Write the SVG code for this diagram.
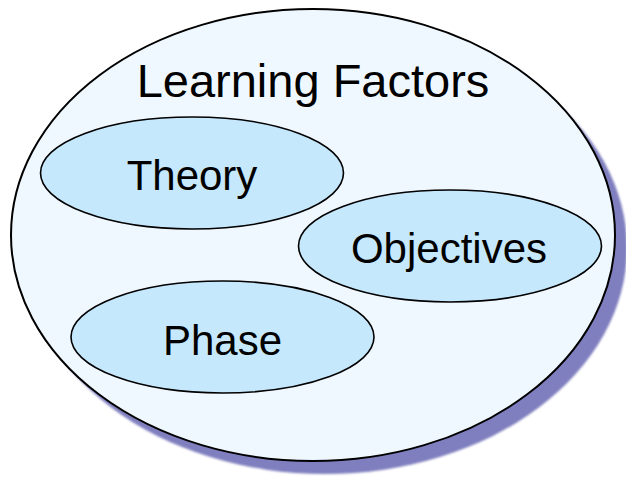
<svg xmlns="http://www.w3.org/2000/svg" width="626" height="477" viewBox="0 0 626 477">
  <defs>
    <filter id="soft" x="-5%" y="-5%" width="110%" height="110%">
      <feGaussianBlur stdDeviation="1"/>
    </filter>
  </defs>
  <style>
    .outer { fill: #f0f8ff; stroke: #000; stroke-width: 2; }
    .shadow { fill: #7f7fbf; stroke: none; }
    .inner { fill: #c6e8fc; stroke: #000; stroke-width: 1.6; }
    .title { font-family: "Liberation Sans", Arial, sans-serif; font-size: 47px; fill: #000; text-anchor: middle; }
    .label { font-family: "Liberation Sans", Arial, sans-serif; font-size: 42px; fill: #000; text-anchor: middle; }
  </style>
  <g id="learning-factors">
    <ellipse class="shadow" cx="325" cy="248" rx="302" ry="226" filter="url(#soft)"/>
    <ellipse class="outer" cx="313" cy="235" rx="302" ry="226"/>
    <text class="title" x="313" y="97">Learning Factors</text>
  </g>
  <g id="theory">
    <ellipse class="inner" cx="192" cy="173" rx="151.5" ry="56"/>
    <text class="label" x="192" y="190">Theory</text>
  </g>
  <g id="objectives">
    <ellipse class="inner" cx="450" cy="246" rx="151.5" ry="56"/>
    <text class="label" x="449" y="263">Objectives</text>
  </g>
  <g id="phase">
    <ellipse class="inner" cx="222.5" cy="337" rx="151.5" ry="56"/>
    <text class="label" x="222.5" y="355">Phase</text>
  </g>
  <g id="connectors"></g>
</svg>
